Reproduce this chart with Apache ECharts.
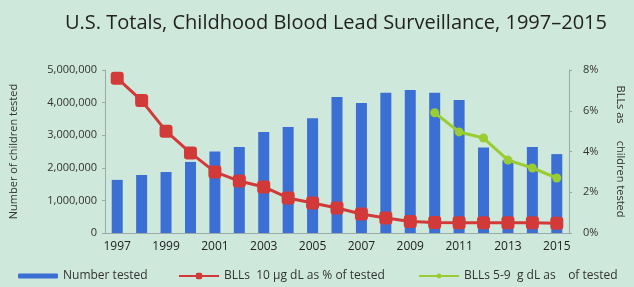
<!DOCTYPE html>
<html>
<head>
<meta charset="utf-8">
<script src="https://cdn.jsdelivr.net/npm/echarts@6/dist/echarts.min.js"></script>
<style>
  html, body { margin: 0; padding: 0; background: #cfe8dc; }
  #chart { width: 634px; height: 287px; }
</style>
</head>
<body>
<div id="chart"></div>
<script>
var years = ['1997', '1998', '1999', '2000', '2001', '2002', '2003', '2004', '2005', '2006',
    '2007', '2008', '2009', '2010', '2011', '2012', '2013', '2014', '2015'];
var numberTested = [1630000, 1780000, 1870000, 2180000, 2500000, 2640000, 3100000, 3250000, 3520000, 4170000,
    3990000, 4300000, 4390000, 4300000, 4080000, 2620000, 2230000, 2640000, 2420000];
var pctAbove10 = [7.6, 6.5, 5.0, 3.93, 3.0, 2.55, 2.26, 1.72, 1.47, 1.23,
    0.93, 0.74, 0.56, 0.52, 0.5, 0.5, 0.5, 0.5, 0.48];
var pct5to9 = [null, null, null, null, null, null, null, null, null, null,
    null, null, null, 5.9, 4.96, 4.66, 3.58, 3.19, 2.7];

var chart = echarts.init(document.getElementById('chart'));
var font = 'Open Sans';
var option = {
    backgroundColor: '#cfe8dc',
    textStyle: {fontFamily: font},
    title: {
        text: 'U.S. Totals, Childhood Blood Lead Surveillance, 1997\u20132015',
        left: 60,
        top: 8,
        textStyle: {fontSize: 20, fontWeight: 'normal', color: '#222', fontFamily: font}
    },
    legend: [
        {
            data: ['Number tested'],
            left: 13, bottom: 0,
            itemWidth: 40, itemHeight: 5, itemGap: 4,
            textStyle: {fontSize: 12, color: '#333'}
        },
        {
            data: ['BLLs  10 \u00b5g dL as % of tested'],
            left: 173, bottom: 0,
            itemWidth: 40, itemHeight: 8,
            textStyle: {fontSize: 12, color: '#333'}
        },
        {
            data: ['BLLs 5-9  g dL as    of tested'],
            left: 413, bottom: 0,
            itemWidth: 40, itemHeight: 6,
            textStyle: {fontSize: 12, color: '#333'}
        }
    ],
    grid: {left: 105, right: 62, top: 70, bottom: 54},
    xAxis: {
        type: 'category',
        data: years,
        axisLine: {lineStyle: {color: '#9aa'}},
        axisTick: {show: false},
        axisLabel: {interval: 1, color: '#222', fontSize: 12, margin: 8}
    },
    yAxis: [
        {
            type: 'value',
            min: 0, max: 5000000, interval: 1000000,
            name: 'Number of children tested',
            nameLocation: 'middle',
            nameGap: 86,
            nameTextStyle: {fontSize: 11, color: '#333'},
            axisLine: {show: true, lineStyle: {color: '#9aa'}},
            axisTick: {show: true, length: 3},
            splitLine: {show: false},
            axisLabel: {
                color: '#333', fontSize: 11,
                formatter: function (v) { return v.toLocaleString('en-US'); }
            }
        },
        {
            type: 'value',
            min: 0, max: 8, interval: 2,
            name: 'BLLs as      children tested',
            nameLocation: 'middle',
            nameGap: 46,
            nameRotate: -90,
            nameTextStyle: {fontSize: 11, color: '#333'},
            axisLine: {show: true, lineStyle: {color: '#9aa'}},
            axisTick: {show: true, length: 3},
            splitLine: {show: false},
            axisLabel: {color: '#333', fontSize: 11, margin: 14, formatter: '{value}%'}
        }
    ],
    series: [
        {
            name: 'Number tested',
            type: 'bar',
            data: numberTested,
            barWidth: 11,
            itemStyle: {color: '#3b6fd4'}
        },
        {
            name: 'BLLs  10 \u00b5g dL as % of tested',
            type: 'line',
            yAxisIndex: 1,
            data: pctAbove10,
            symbol: 'roundRect',
            symbolSize: 13,
            lineStyle: {color: '#d23a3a', width: 3},
            itemStyle: {color: '#d23a3a'}
        },
        {
            name: 'BLLs 5-9  g dL as    of tested',
            type: 'line',
            yAxisIndex: 1,
            data: pct5to9,
            symbol: 'circle',
            symbolSize: 9,
            lineStyle: {color: '#9acd32', width: 3},
            itemStyle: {color: '#9acd32'}
        }
    ]
};
chart.setOption(option);
window.onresize = chart.resize;
</script>
</body>
</html>
